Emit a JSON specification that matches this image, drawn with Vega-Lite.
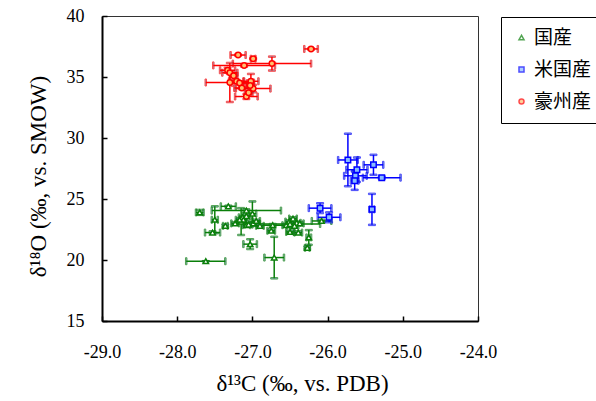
{
  "$schema": "https://vega.github.io/schema/vega-lite/v6.json",
  "width": 376,
  "height": 305,
  "autosize": "none",
  "padding": {"left": 102, "top": 16, "right": 118, "bottom": 80},
  "background": "white",
  "config": {
    "view": {"stroke": "#333333", "strokeWidth": 1},
    "axis": {
      "grid": false,
      "labelFlush": false,
      "domainColor": "black",
      "domainWidth": 2,
      "tickColor": "black",
      "tickWidth": 1.5,
      "tickSize": -5,
      "labelFont": "Liberation Serif",
      "labelFontSize": 18,
      "labelColor": "black",
      "titleFont": "Liberation Serif",
      "titleFontSize": 23,
      "titleFontWeight": "normal",
      "titleColor": "black"
    },
    "legend": {
      "orient": "none", "legendX": 399, "legendY": 1,
      "strokeColor": "black", "fillColor": "white", "padding": 11,
      "labelFont": "Noto Sans CJK JP", "labelFontSize": 19, "labelColor": "black",
      "symbolSize": 25, "symbolStrokeWidth": 1.5, "labelOffset": 3, "rowPadding": 12
    }
  },
  "data": {
    "values": [
      {"group": "国産", "x": -27.62, "y": 19.9, "xe": 0.26, "ye": 0},
      {"group": "国産", "x": -27.03, "y": 21.3, "xe": 0.09, "ye": 0.4},
      {"group": "国産", "x": -26.71, "y": 20.2, "xe": 0.13, "ye": 1.7},
      {"group": "国産", "x": -27.70, "y": 23.9, "xe": 0.05, "ye": 0.2},
      {"group": "国産", "x": -27.32, "y": 24.4, "xe": 0.1, "ye": 0.05},
      {"group": "国産", "x": -27.50, "y": 23.3, "xe": 0.04, "ye": 1.1},
      {"group": "国産", "x": -27.53, "y": 22.25, "xe": 0.1, "ye": 0.1},
      {"group": "国産", "x": -27.36, "y": 22.8, "xe": 0.03, "ye": 0.1},
      {"group": "国産", "x": -27.23, "y": 23.0, "xe": 0.05, "ye": 0.1},
      {"group": "国産", "x": -27.15, "y": 23.15, "xe": 0.05, "ye": 1.1},
      {"group": "国産", "x": -27.13, "y": 23.5, "xe": 0.05, "ye": 0.1},
      {"group": "国産", "x": -27.08, "y": 24.05, "xe": 0.46, "ye": 0.1},
      {"group": "国産", "x": -27.08, "y": 22.85, "xe": 0.05, "ye": 0.1},
      {"group": "国産", "x": -27.08, "y": 23.6, "xe": 0.05, "ye": 0.1},
      {"group": "国産", "x": -27.12, "y": 23.3, "xe": 0.05, "ye": 0.1},
      {"group": "国産", "x": -27.0, "y": 23.8, "xe": 0.05, "ye": 1.0},
      {"group": "国産", "x": -26.99, "y": 23.0, "xe": 0.05, "ye": 0.1},
      {"group": "国産", "x": -26.90, "y": 22.8, "xe": 0.05, "ye": 0.1},
      {"group": "国産", "x": -27.05, "y": 22.9, "xe": 0.05, "ye": 0.1},
      {"group": "国産", "x": -27.17, "y": 23.3, "xe": 0.05, "ye": 0.1},
      {"group": "国産", "x": -26.95, "y": 23.2, "xe": 0.05, "ye": 0.1},
      {"group": "国産", "x": -26.73, "y": 22.85, "xe": 0.19, "ye": 0.1},
      {"group": "国産", "x": -26.75, "y": 22.4, "xe": 0.05, "ye": 0.1},
      {"group": "国産", "x": -26.55, "y": 22.85, "xe": 0.05, "ye": 0.1},
      {"group": "国産", "x": -26.51, "y": 23.15, "xe": 0.05, "ye": 0.1},
      {"group": "国産", "x": -26.50, "y": 22.95, "xe": 0.4, "ye": 0.1},
      {"group": "国産", "x": -26.46, "y": 23.4, "xe": 0.05, "ye": 0.1},
      {"group": "国産", "x": -26.41, "y": 23.05, "xe": 0.05, "ye": 0.1},
      {"group": "国産", "x": -26.37, "y": 23.0, "xe": 0.05, "ye": 0.1},
      {"group": "国産", "x": -26.44, "y": 22.8, "xe": 0.05, "ye": 0.1},
      {"group": "国産", "x": -26.50, "y": 22.3, "xe": 0.05, "ye": 0.1},
      {"group": "国産", "x": -26.39, "y": 22.25, "xe": 0.05, "ye": 0.1},
      {"group": "国産", "x": -26.25, "y": 21.85, "xe": 0.03, "ye": 0.6},
      {"group": "国産", "x": -26.27, "y": 21.0, "xe": 0.03, "ye": 0.1},
      {"group": "国産", "x": -26.08, "y": 23.2, "xe": 0.13, "ye": 0.1},
      {"group": "米国産", "x": -25.73, "y": 28.2, "xe": 0.13, "ye": 2.15},
      {"group": "米国産", "x": -25.61, "y": 27.4, "xe": 0.14, "ye": 1.0},
      {"group": "米国産", "x": -25.63, "y": 26.9, "xe": 0.15, "ye": 0.4},
      {"group": "米国産", "x": -25.64, "y": 26.5, "xe": 0.05, "ye": 0.75},
      {"group": "米国産", "x": -25.39, "y": 27.8, "xe": 0.13, "ye": 0.82},
      {"group": "米国産", "x": -25.28, "y": 26.75, "xe": 0.25, "ye": 0.1},
      {"group": "米国産", "x": -25.41, "y": 24.15, "xe": 0.03, "ye": 1.27},
      {"group": "米国産", "x": -26.10, "y": 24.25, "xe": 0.15, "ye": 0.4},
      {"group": "米国産", "x": -25.98, "y": 23.5, "xe": 0.15, "ye": 0.4},
      {"group": "豪州産", "x": -27.19, "y": 36.8, "xe": 0.10, "ye": 0.05},
      {"group": "豪州産", "x": -26.22, "y": 37.3, "xe": 0.09, "ye": 0.05},
      {"group": "豪州産", "x": -26.99, "y": 36.5, "xe": 0.03, "ye": 0.05},
      {"group": "豪州産", "x": -27.11, "y": 35.95, "xe": 0.41, "ye": 0.1},
      {"group": "豪州産", "x": -26.74, "y": 36.1, "xe": 0.52, "ye": 0.57},
      {"group": "豪州産", "x": -27.33, "y": 35.55, "xe": 0.1, "ye": 0.2},
      {"group": "豪州産", "x": -27.30, "y": 35.35, "xe": 0.1, "ye": 0.1},
      {"group": "豪州産", "x": -27.25, "y": 35.1, "xe": 0.05, "ye": 0.1},
      {"group": "豪州産", "x": -27.30, "y": 34.55, "xe": 0.32, "ye": 1.6},
      {"group": "豪州産", "x": -27.21, "y": 34.65, "xe": 0.1, "ye": 0.1},
      {"group": "豪州産", "x": -27.17, "y": 34.5, "xe": 0.1, "ye": 0.1},
      {"group": "豪州産", "x": -27.02, "y": 34.65, "xe": 0.1, "ye": 0.6},
      {"group": "豪州産", "x": -26.99, "y": 34.05, "xe": 0.23, "ye": 0.3},
      {"group": "豪州産", "x": -27.14, "y": 34.1, "xe": 0.1, "ye": 0.1},
      {"group": "豪州産", "x": -27.08, "y": 33.4, "xe": 0.15, "ye": 0.2},
      {"group": "豪州産", "x": -27.03, "y": 34.3, "xe": 0.05, "ye": 0.1},
      {"group": "豪州産", "x": -27.05, "y": 33.7, "xe": 0.05, "ye": 0.1}
    ]
  },
  "encoding": {
    "x": {
      "field": "x", "type": "quantitative",
      "scale": {"domain": [-29, -24], "nice": false, "zero": false},
      "axis": {"values": [-29, -28, -27, -26, -25, -24], "labelExpr": "replace(format(datum.value, '.1f'), '−', '-')", "labelPadding": 27, "title": "δ¹³C (‰, vs. PDB)", "titlePadding": 11, "titleX": 200}
    },
    "y": {
      "field": "y", "type": "quantitative",
      "scale": {"domain": [15, 40], "nice": false, "zero": false},
      "axis": {"values": [15, 20, 25, 30, 35, 40], "labelPadding": 23, "title": "δ¹⁸O (‰, vs. SMOW)", "titlePadding": 16, "titleY": 160}
    },
    "stroke": {
      "field": "group", "type": "nominal", "title": null,
      "scale": {"domain": ["国産", "米国産", "豪州産"], "range": ["#0a7f0a", "#0000ff", "#ff0000"]}
    }
  },
  "layer": [
    {
      "mark": {"type": "errorbar", "ticks": {"size": 7, "thickness": 1.5}, "thickness": 1.5},
      "encoding": {"xError": {"field": "xe"}}
    },
    {
      "mark": {"type": "errorbar", "ticks": {"size": 7, "thickness": 1.5}, "thickness": 1.5},
      "encoding": {"yError": {"field": "ye"}}
    },
    {
      "mark": {"type": "point", "size": 30, "strokeWidth": 1.5, "opacity": 1, "fillOpacity": 1},
      "encoding": {
        "fill": {
          "field": "group", "type": "nominal", "title": null,
          "scale": {"domain": ["国産", "米国産", "豪州産"], "range": ["#ffffff", "#88bbff", "#ffc070"]}
        },
        "shape": {
          "field": "group", "type": "nominal", "title": null,
          "scale": {"domain": ["国産", "米国産", "豪州産"], "range": ["triangle-up", "square", "circle"]}
        }
      }
    }
  ]
}
